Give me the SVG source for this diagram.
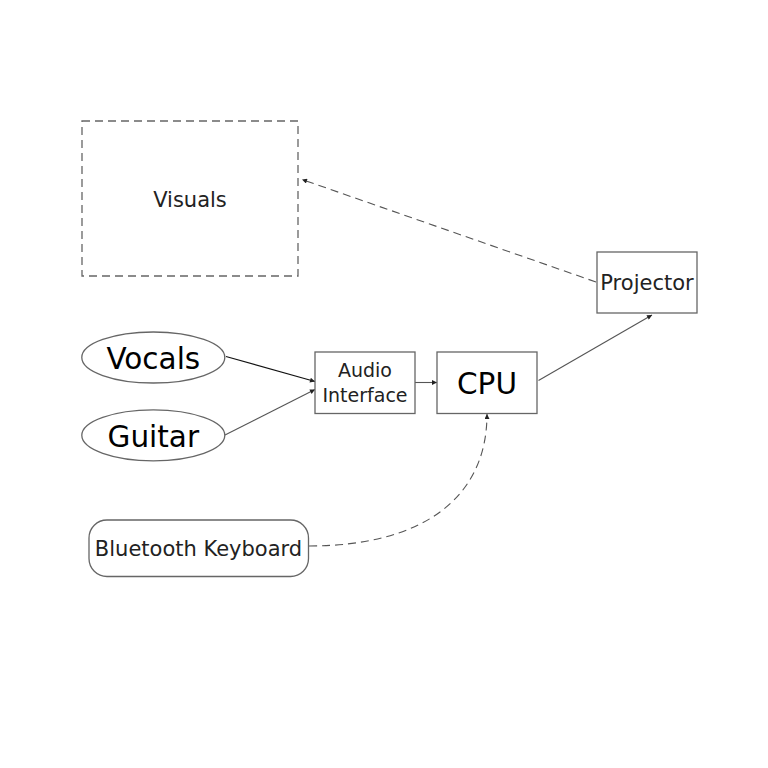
<svg xmlns="http://www.w3.org/2000/svg" width="768" height="768" viewBox="0 0 768 768">
<defs>
<style>
.box{fill:#fff;stroke:#666;stroke-width:1.3}
.dashbox{fill:none;stroke:#666;stroke-width:1.3;stroke-dasharray:8 5}
.t{font-family:"DejaVu Sans","Verdana",sans-serif;text-anchor:middle;fill:#222}
.big{font-size:29.5px;fill:#000}
.mid{font-size:21px}
.sm{font-size:19px}
.c{fill:none;stroke:#555;stroke-width:1.1}
.cd{fill:none;stroke:#555;stroke-width:1.1;stroke-dasharray:8 5}
</style>
<marker id="ah" viewBox="0 0 10 10" refX="10" refY="5" markerWidth="6" markerHeight="5" markerUnits="userSpaceOnUse" orient="auto">
<path d="M0,0 L10,5 L0,10 Z" fill="#222"/>
</marker>
</defs>
<rect width="768" height="768" fill="#fff"/>
<g id="connectors">
<line class="c" x1="226" y1="356.5" x2="315" y2="381.5" style="stroke:#111" marker-end="url(#ah)"/>
<line class="c" x1="225" y1="435" x2="315" y2="389.5" marker-end="url(#ah)"/>
<line class="c" x1="415" y1="382.5" x2="437" y2="382.5" marker-end="url(#ah)"/>
<line class="c" x1="538.5" y1="380.5" x2="652" y2="315" marker-end="url(#ah)"/>
<line class="cd" x1="596" y1="282" x2="302" y2="179.5" marker-end="url(#ah)"/>
<path class="cd" d="M309,546 C420,546 487,500 487,414" marker-end="url(#ah)"/>
</g>
<g id="visuals">
<rect class="dashbox" x="82" y="121" width="216" height="155"/>
<text class="t mid" x="190" y="207">Visuals</text>
</g>
<g id="projector">
<rect class="box" x="597" y="252" width="100" height="61"/>
<text class="t mid" x="647" y="290">Projector</text>
</g>
<g id="vocals">
<ellipse class="box" cx="153.3" cy="357.5" rx="71.5" ry="25.5"/>
<text class="t big" x="153.3" y="368.5">Vocals</text>
</g>
<g id="guitar">
<ellipse class="box" cx="153.3" cy="435.3" rx="71.5" ry="25.5"/>
<text class="t big" x="153.3" y="446.5">Guitar</text>
</g>
<g id="audio-interface">
<rect class="box" x="315" y="352" width="100" height="61.5"/>
<text class="t sm" x="365" y="377">Audio</text>
<text class="t sm" x="365" y="401.5">Interface</text>
</g>
<g id="cpu">
<rect class="box" x="437" y="352" width="100" height="61.5"/>
<text class="t big" x="487" y="393.5">CPU</text>
</g>
<g id="bluetooth-keyboard">
<rect class="box" x="89" y="520" width="219.5" height="56.5" rx="18" ry="18"/>
<text class="t mid" x="198.5" y="556">Bluetooth Keyboard</text>
</g>
</svg>
